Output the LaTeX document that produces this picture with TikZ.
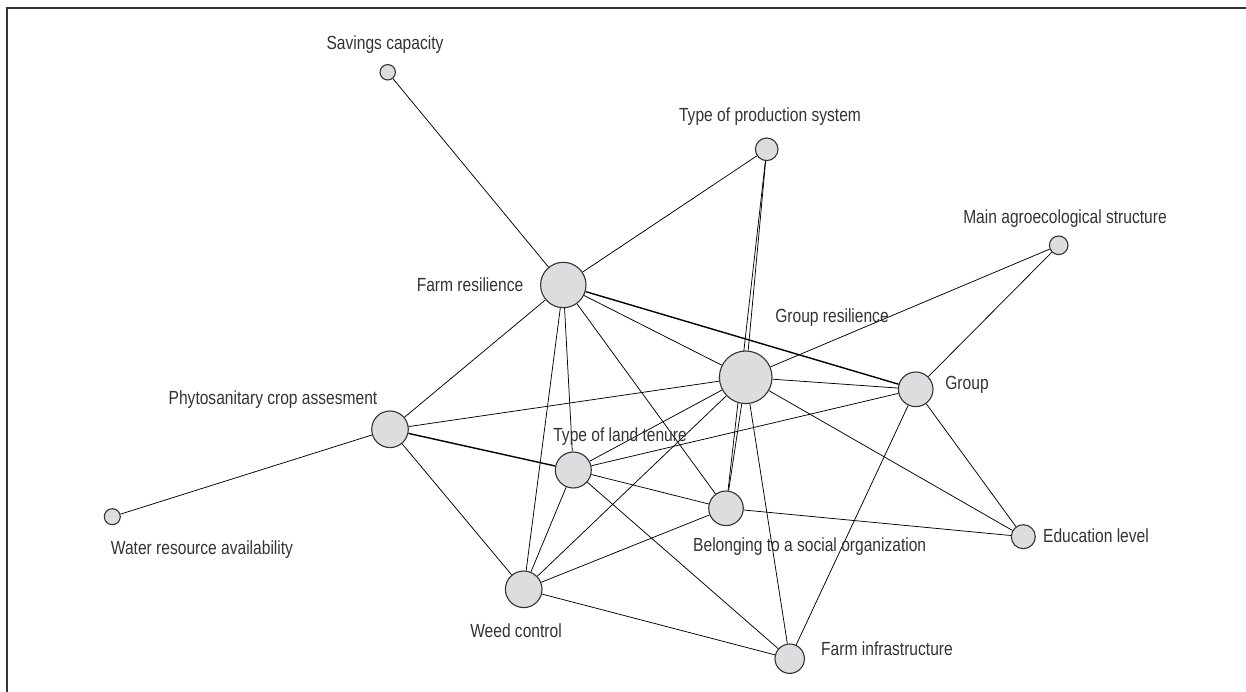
\documentclass[tikz,border=0pt]{standalone}
\usepackage{fontspec}
\setmainfont{Liberation Sans}[FakeStretch=0.82]
\usetikzlibrary{backgrounds}
\definecolor{nodegray}{HTML}{DCDDDF}
\definecolor{txtgray}{HTML}{333333}
\tikzset{
  var/.style={circle, draw=black!80, line width=1.1pt, fill=nodegray, inner sep=0pt},
  lbl/.style={text=txtgray, font=\fontsize{19}{21}\selectfont, inner sep=0pt},
  link/.style={line width=0.75pt},
  strong/.style={line width=1.4pt}
}
\begin{document}
\begin{tikzpicture}[x=1pt,y=-1pt]
  \useasboundingbox (0,0) rectangle (1246,692);
  \draw[line width=1.6pt, black!80] (7,692) -- (7,8) -- (1246,8);

  % variables
  \node[var, minimum size=15.4pt] (savings) at (387.7,72.3){};
  \node[var, minimum size=22.6pt] (prodsys) at (766.7,149.3){};
  \node[var, minimum size=18.6pt] (agroeco) at (1058.7,245.3){};
  \node[var, minimum size=45.4pt] (farmres) at (563.3,285){};
  \node[var, minimum size=52.6pt] (groupres) at (745.7,377.3){};
  \node[var, minimum size=34.6pt] (group) at (915.7,389.3){};
  \node[var, minimum size=36.6pt] (phyto) at (390,429.3){};
  \node[var, minimum size=16pt] (water) at (112.3,516.7){};
  \node[var, minimum size=36pt] (tenure) at (573.3,470){};
  \node[var, minimum size=34.6pt] (socorg) at (726,508.3){};
  \node[var, minimum size=24pt] (educ) at (1023.3,536.7){};
  \node[var, minimum size=36.6pt] (weed) at (523.7,589.3){};
  \node[var, minimum size=29.4pt] (infra) at (789.7,658.7){};

  % labels
  \node[lbl] (savingsl) at (385,45){Savings capacity};
  \node[lbl] (prodsysl) at (770,117){Type of production system};
  \node[lbl] (agroecol) at (1065,219){Main agroecological structure};
  \node[lbl] (farmresl) at (470,285){Farm resilience};
  \node[lbl] (groupresl) at (832,318){Group resilience};
  \node[lbl] (groupl) at (967,385){Group};
  \node[lbl] (phytol) at (273,400){Phytosanitary crop assesment};
  \node[lbl] (waterl) at (202,550){Water resource availability};
  \node[lbl] (tenurel) at (620,437){Type of land tenure};
  \node[lbl, anchor=west] (socorgl) at (693,547){Belonging to a social organization};
  \node[lbl] (educl) at (1096,536){Education level};
  \node[lbl] (weedl) at (516,631){Weed control};
  \node[lbl, anchor=west] (infral) at (821,649){Farm infrastructure};

  % links
  \begin{scope}[on background layer]
    \draw[link] (savings) -- (farmres);
    \draw[link] (prodsys) -- (farmres);
    \draw[link] (prodsys) -- (groupres);
    \draw[link] (prodsys.center) -- (socorg);
    \draw[link] (agroeco) -- (groupres);
    \draw[link] (agroeco) -- (group);
    \draw[strong] (farmres) -- (group);
    \draw[link] (farmres) -- (groupres);
    \draw[link] (farmres) -- (phyto);
    \draw[link] (farmres) -- (tenure);
    \draw[link] (farmres) -- (weed);
    \draw[link] (farmres) -- (socorg);
    \draw[link] (groupres) -- (group);
    \draw[link] (groupres) -- (phyto);
    \draw[link] (groupres) -- (tenure);
    \draw[link] (groupres) -- (weed);
    \draw[link] (groupres) -- (socorg);
    \draw[link] (groupres) -- (educ);
    \draw[link] (groupres) -- (infra);
    \draw[link] (group) -- (tenure);
    \draw[link] (group) -- (educ);
    \draw[link] (group) -- (infra);
    \draw[link] (phyto) -- (water);
    \draw[strong] (phyto) -- (tenure);
    \draw[link] (phyto) -- (weed);
    \draw[link] (tenure) -- (weed);
    \draw[link] (tenure) -- (socorg);
    \draw[link] (tenure) -- (infra);
    \draw[link] (socorg) -- (educ);
    \draw[link] (socorg) -- (weed);
    \draw[link] (weed) -- (infra);
  \end{scope}
\end{tikzpicture}
\end{document}
